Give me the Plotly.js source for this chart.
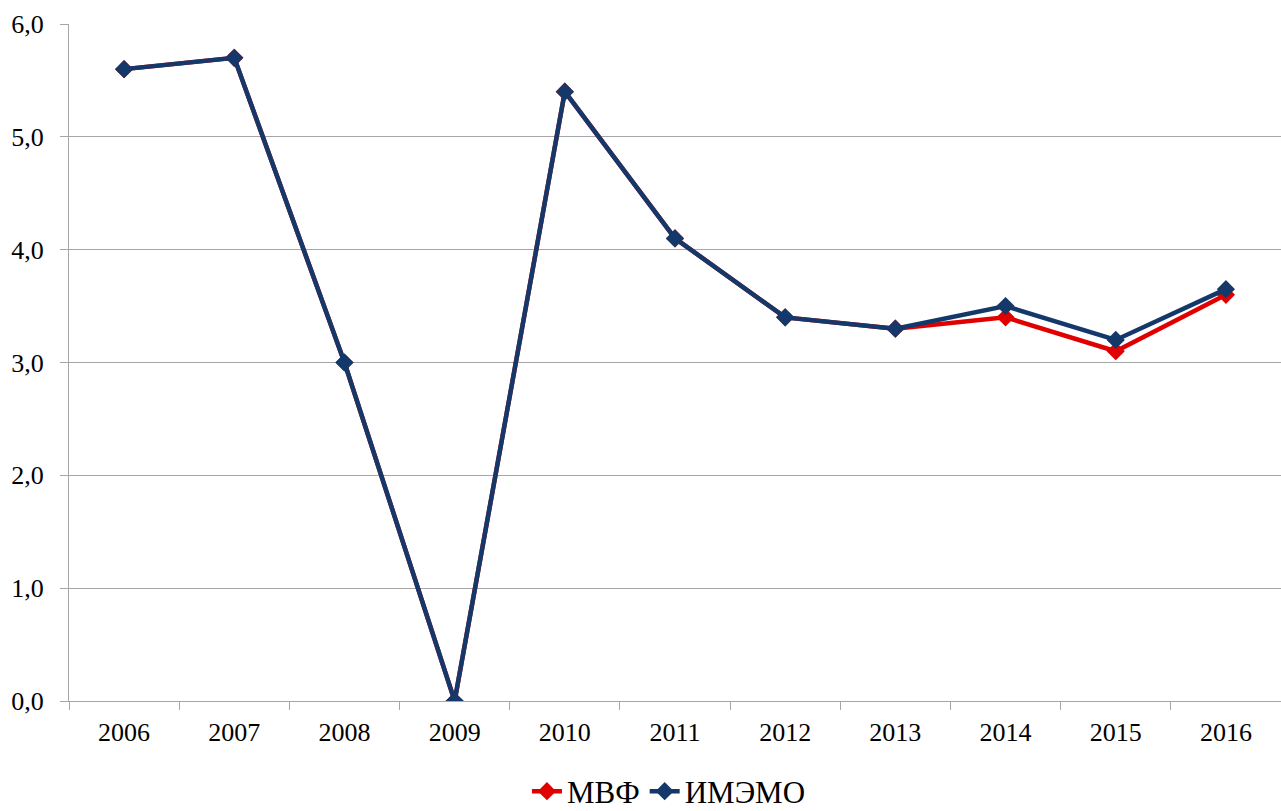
<!DOCTYPE html>
<html><head><meta charset="utf-8">
<script src="https://cdn.plot.ly/plotly-3.0.1.min.js"></script>
<style>html,body{margin:0;padding:0;background:#fff}#c{width:1281px;height:811px}</style>
</head><body><div id="c"></div>
<script>
const years = ["2006","2007","2008","2009","2010","2011","2012","2013","2014","2015","2016"];
const imf = [5.6, 5.7, 3.0, 0.0, 5.4, 4.1, 3.4, 3.3, 3.4, 3.1, 3.6];
const imemo = [5.6, 5.7, 3.0, 0.0, 5.4, 4.1, 3.4, 3.3, 3.5, 3.2, 3.65];
const names = ["МВФ", "ИМЭМО"];

const traces = [
  {x: years, y: imf, name: names[0], type: "scatter", mode: "lines+markers",
   line: {color: "#E00000", width: 4.5}, marker: {symbol: "diamond", size: 14, color: "#E00000"}},
  {x: years, y: imemo, name: names[1], type: "scatter", mode: "lines+markers",
   line: {color: "#14386A", width: 4.5}, marker: {symbol: "diamond", size: 14, color: "#14386A"}}
];
const layout = {
  width: 1281, height: 811,
  margin: {l: 69, r: 0, t: 24, b: 110, autoexpand: false},
  paper_bgcolor: "#fff", plot_bgcolor: "#fff",
  separators: ", ",
  font: {family: "'Liberation Serif', 'Times New Roman', serif", color: "#000", size: 26},
  showlegend: true,
  legend: {orientation: "h", x: 0.495, xanchor: "center", yref: "container", y: 0.024, yanchor: "middle",
           font: {size: 31}, tracegroupgap: 0},
  xaxis: {type: "category", range: [-0.5, 10.5], tickson: "boundaries", ticks: "outside",
          ticklen: 8, tickcolor: "#a6a6a6", showline: true, linecolor: "#a6a6a6", linewidth: 1,
          showgrid: false, ticklabelstandoff: 8, fixedrange: true, automargin: false},
  yaxis: {range: [0, 6], dtick: 1, tickformat: ".1f", ticks: "outside", ticklen: 8,
          tickcolor: "#a6a6a6", showline: true, linecolor: "#a6a6a6", linewidth: 1,
          gridcolor: "#a6a6a6", gridwidth: 1, zeroline: false, ticklabelstandoff: 11,
          fixedrange: true, automargin: false}
};
Plotly.newPlot("c", traces, layout, {displayModeBar: false, staticPlot: true});
</script></body></html>
